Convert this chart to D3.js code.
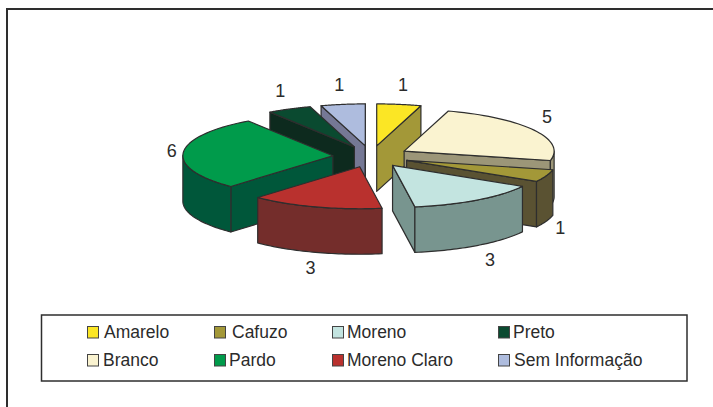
<!DOCTYPE html>
<html><head><meta charset="utf-8">
<script src="https://cdn.jsdelivr.net/npm/d3@7/dist/d3.min.js"></script>
<style>html,body{margin:0;padding:0;background:#fff}svg{display:block}text{font-family:"Liberation Sans",Arial,sans-serif;fill:#2b2b2b}</style>
</head><body><svg id="c" width="713" height="407"></svg>
<script>
const categories = ["Amarelo","Branco","Cafuzo","Moreno","Moreno Claro","Pardo","Preto","Sem Informação"];
const values = [1,5,1,3,3,6,1,1];
const topColors = ["#fbe625","#faf3d0","#a39838","#c3e4e0","#b9312e","#009b4b","#0a4a30","#aebcde"];
const sideColors = ["#a39838","#9c9678","#5a5232","#78958f","#742d2b","#00573a","#0d2a1e","#757895"];
const legendOrder = ["Amarelo","Branco","Cafuzo","Pardo","Moreno","Moreno Claro","Preto","Sem Informação"];
const paintOrder = ["Sem Informação","Preto","Amarelo","Branco","Cafuzo","Pardo","Moreno","Moreno Claro"];

const svg = d3.select("#c");
const ink = "#2e2e2e";
// frame: only the top and left rules are visible in the picture
svg.append("path").attr("d","M7 407V9H713").attr("fill","none").attr("stroke",ink).attr("stroke-width",2);

// elliptical projection of the tilted pie
const sx = d3.scaleLinear().domain([-1,1]).range([371-150,371+150]);
const sy = d3.scaleLinear().domain([-1,1]).range([156.5-42,156.5+42]);
const explode = 0.255, depth = 45.5;
const arcs = d3.pie().value(d=>d).sort(null)(values).map((a,i)=>({...a,name:categories[i],i}));
const line = d3.line();
arcs.forEach(a=>{ const m=(a.startAngle+a.endAngle)/2; a.mid=m; a.ox=explode*Math.sin(m); a.oy=-explode*Math.cos(m); });
const P=(a,r,t,dz=0)=>[sx(a.ox+r*Math.sin(t)), sy(a.oy-r*Math.cos(t))+dz];
const rim=(a,t0,t1,dz=0)=>d3.range(0,41).map(k=>P(a,1,t0+(t1-t0)*k/40,dz));

const g = svg.append("g");
paintOrder.map(n=>arcs.find(a=>a.name===n)).forEach(a=>{
  const s=g.append("g").attr("class","slice").attr("stroke",ink).attr("stroke-width",1.2).attr("stroke-linejoin","round");
  const side=sideColors[a.i];
  const face=t=>s.append("path").attr("fill",side).attr("d",line([P(a,0,t),P(a,1,t),P(a,1,t,depth),P(a,0,t,depth)])+"Z");
  // front-facing outer wall only (angles between 90 and 270 degrees)
  const lo=Math.max(a.startAngle,Math.PI/2), hi=Math.min(a.endAngle,3*Math.PI/2);
  if(Math.sin(a.startAngle)<0) face(a.startAngle);
  if(Math.sin(a.endAngle)>0) face(a.endAngle);
  if(lo<hi){
    s.append("path").attr("fill",side).attr("d",line([...rim(a,lo,hi),...rim(a,hi,lo,depth)])+"Z");
  }
  s.append("path").attr("fill",topColors[a.i]).attr("d",line([P(a,0,a.startAngle),...rim(a,a.startAngle,a.endAngle)])+"Z");
});

// value labels: rim midpoint of each slice plus a label gap
const labelGap = {"Amarelo":[4,-13],"Branco":[13,-7],"Cafuzo":[14,58],"Moreno":[13,66],"Moreno Claro":[-5,67],"Pardo":[-11.5,4.5],"Preto":[-9,-12],"Sem Informação":[-3.7,-13]};
arcs.forEach(a=>{
  const [x,y]=P(a,1,a.mid), d=labelGap[a.name];
  svg.append("text").attr("x",x+d[0]).attr("y",y+d[1]).attr("text-anchor","middle").attr("font-size",18).text(a.data);
});

// legend
svg.append("rect").attr("x",41.5).attr("y",315).attr("width",645.5).attr("height",66).attr("fill","#fff").attr("stroke",ink).attr("stroke-width",1.5);
const colX=[87,214,332,498], rowY=[326,354], textX=[[104,232,347,513],[103,229,347,514]];
legendOrder.forEach((n,k)=>{
  const col=Math.floor(k/2), row=k%2, i=categories.indexOf(n);
  svg.append("rect").attr("x",colX[col]+.5).attr("y",rowY[row]+.5).attr("width",11).attr("height",11.5).attr("fill",topColors[i]).attr("stroke","#444").attr("stroke-width",1);
  svg.append("text").attr("x",textX[row][col]).attr("y",rowY[row]+12).attr("font-size",17.5).text(n);
});
</script></body></html>
